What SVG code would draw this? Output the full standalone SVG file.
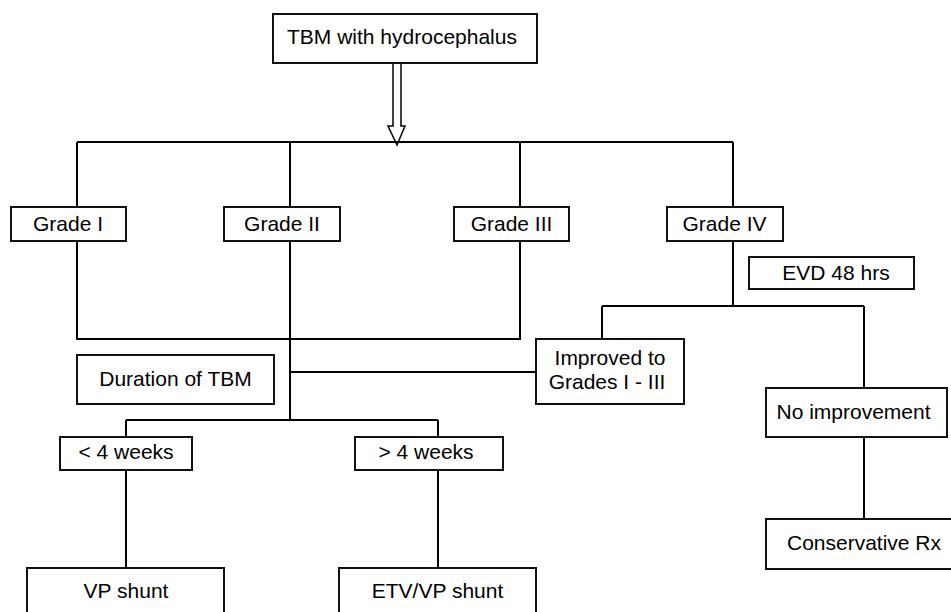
<svg xmlns="http://www.w3.org/2000/svg" width="951" height="612" viewBox="0 0 951 612">
<style>
.box{fill:#fff;stroke:#111;stroke-width:2}
.ln{fill:none;stroke:#000;stroke-width:2}
text{font-family:"Liberation Sans",Arial,sans-serif;font-size:21px;fill:#000;text-anchor:middle}
</style>
<rect width="951" height="612" fill="#fff"/>
<g id="connectors">
<polygon points="393,63 401,63 401,126 405,126 397,145 388,126 393,126" fill="#fff" stroke="#000" stroke-width="1.5"/>
<path class="ln" d="M77,142 H733 M77,142 V207 M290,142 V207 M520,142 V207 M733,142 V207"/>
<path class="ln" d="M77,241 V339 H520 V241 M290,241 V420 M126,420 H438 M126,420 V437 M438,420 V437 M290,372 H536"/>
<path class="ln" d="M733,241 V306 M602,306 H864 M602,306 V339 M864,306 V388 M864,437 V519"/>
<path class="ln" d="M126,470 V568 M438,470 V568"/>
</g>
<g id="n_top"><rect class="box" x="273" y="14" width="264" height="49"/><text x="402" y="44">TBM with hydrocephalus</text></g>
<g id="n_g1"><rect class="box" x="11" y="207" width="115" height="34"/><text x="68" y="231">Grade I</text></g>
<g id="n_g2"><rect class="box" x="224" y="207" width="116" height="34"/><text x="282" y="231">Grade II</text></g>
<g id="n_g3"><rect class="box" x="454" y="207" width="115" height="34"/><text x="511.5" y="231">Grade III</text></g>
<g id="n_g4"><rect class="box" x="667" y="207" width="116" height="34"/><text x="724.5" y="231">Grade IV</text></g>
<g id="n_evd"><rect class="box" x="749" y="257" width="165" height="32"/><text x="836" y="280">EVD 48 hrs</text></g>
<g id="n_improved"><rect class="box" x="536" y="339" width="148" height="65"/><text x="610" y="365">Improved to</text><text x="607" y="389">Grades I - III</text></g>
<g id="n_duration"><rect class="box" x="77" y="355" width="197" height="49"/><text x="175.5" y="386">Duration of TBM</text></g>
<g id="n_noimp"><rect class="box" x="766" y="388" width="181" height="49"/><text x="853.5" y="419">No improvement</text></g>
<g id="n_lt4"><rect class="box" x="60" y="437" width="132" height="33"/><text x="126" y="459">&lt; 4 weeks</text></g>
<g id="n_gt4"><rect class="box" x="355" y="437" width="148" height="33"/><text x="426" y="459">&gt; 4 weeks</text></g>
<g id="n_cons"><rect class="box" x="766" y="519" width="190" height="50"/><text x="864" y="550">Conservative Rx</text></g>
<g id="n_vp"><rect class="box" x="27" y="568" width="197" height="50"/><text x="126" y="598">VP shunt</text></g>
<g id="n_etv"><rect class="box" x="339" y="568" width="197" height="50"/><text x="437.5" y="598">ETV/VP shunt</text></g>
</svg>
